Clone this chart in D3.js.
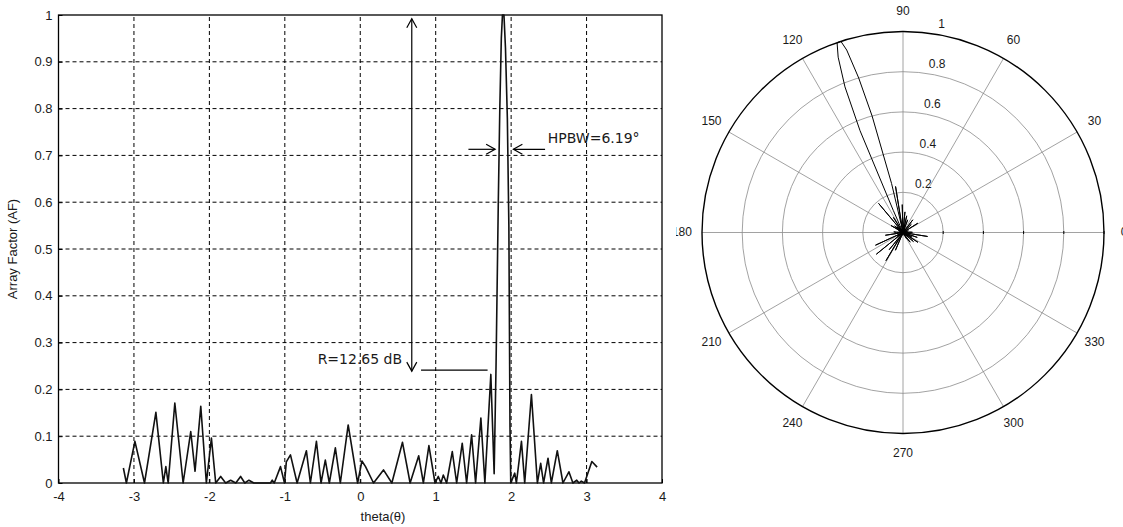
<!DOCTYPE html>
<html>
<head>
<meta charset="utf-8">
<script src="https://cdn.jsdelivr.net/npm/d3@7"></script>
<style>
  body { margin: 0; background: #fff; }
  text { font-family: "Liberation Sans", Arial, sans-serif; fill: #1a1a1a; }
  .note { font-family: "DejaVu Sans", sans-serif; font-size: 14px; }
</style>
</head>
<body>
<svg id="main-svg"></svg>
<script>
// array factor, theta in radians
var theta = [-3.14, -3.10, -2.987, -2.86, -2.709, -2.61, -2.577, -2.546, -2.458, -2.348,
  -2.247, -2.19, -2.114, -2.04, -1.973, -1.916, -1.85, -1.784, -1.718, -1.65,
  -1.586, -1.53, -1.476, -1.41, -1.19, -1.167, -1.14, -1.057, -1.004, -0.98,
  -0.925, -0.837, -0.714, -0.661, -0.581, -0.52, -0.463, -0.41, -0.330, -0.264,
  -0.160, -0.035, 0.022, 0.07, 0.176, 0.308, 0.419, 0.56, 0.661, 0.775,
  0.837, 0.91, 0.991, 1.035, 1.07, 1.101, 1.145, 1.22, 1.278, 1.352,
  1.41, 1.476, 1.529, 1.599, 1.652, 1.731, 1.775, 1.80, 1.83, 1.85,
  1.87, 1.885, 1.905, 1.925, 1.95, 1.97, 1.985, 1.995, 2.048, 2.07,
  2.137, 2.18, 2.269, 2.348, 2.392, 2.43, 2.489, 2.533, 2.612, 2.687,
  2.766, 2.819, 2.87, 2.90, 2.93, 2.973, 3.07, 3.14];
var af = [0.032, 0, 0.089, 0, 0.151, 0, 0.035, 0, 0.171, 0,
  0.110, 0.025, 0.164, 0, 0.096, 0, 0.014, 0, 0.006, 0,
  0.014, 0, 0.006, 0, 0, 0.006, 0, 0.035, 0, 0.045,
  0.060, 0, 0.069, 0, 0.089, 0, 0.049, 0, 0.075, 0,
  0.124, 0, 0.047, 0.035, 0, 0.028, 0, 0.087, 0, 0.058,
  0, 0.080, 0, 0.014, 0, 0.017, 0, 0.067, 0, 0.085,
  0, 0.103, 0, 0.139, 0, 0.232, 0.02, 0.25, 0.60, 0.80,
  0.95, 1.0, 1.0, 0.93, 0.78, 0.55, 0.12, 0, 0.021, 0,
  0.089, 0, 0.189, 0, 0.042, 0, 0.053, 0, 0.069, 0,
  0.024, 0, 0.006, 0, 0.004, 0, 0.046, 0.034];

var xTicks = [-4, -3, -2, -1, 0, 1, 2, 3, 4];
var yTicks = [0, 0.1, 0.2, 0.3, 0.4, 0.5, 0.6, 0.7, 0.8, 0.9, 1];
var ringTicks = [0.2, 0.4, 0.6, 0.8, 1];
var angleTicks = [0, 30, 60, 90, 120, 150, 180, 210, 240, 270, 300, 330];

var width = 1123,
  height = 527;

var svg = d3.select("#main-svg").attr("width", width).attr("height", height);
svg.append("rect").attr("width", width).attr("height", height).attr("fill", "#fff");

var defs = svg.append("defs");
defs.append("marker").attr("id", "arr")
  .attr("viewBox", "-10 -6 12 12").attr("refX", 0).attr("refY", 0)
  .attr("markerWidth", 12).attr("markerHeight", 12).attr("markerUnits", "userSpaceOnUse")
  .attr("orient", "auto-start-reverse")
  .append("path").attr("d", "M-9,-5L0,0L-9,5").attr("fill", "none").attr("stroke", "#000").attr("stroke-width", 1.2);

var pts = theta.map(function (t, i) { return [t, af[i]] });

// ---- left: AF vs theta
var x = d3.scaleLinear().domain([-4, 4]).range([58.5, 662]),
  y = d3.scaleLinear().domain([0, 1]).range([483, 15]);

var g = svg.append("g");

g.append("g").selectAll("line").data(xTicks.slice(1, -1)).enter().append("line")
  .attr("x1", x).attr("x2", x).attr("y1", y(0)).attr("y2", y(1))
  .attr("stroke", "#000").attr("stroke-dasharray", "4,3");
g.append("g").selectAll("line").data(yTicks.slice(1, -1)).enter().append("line")
  .attr("y1", y).attr("y2", y).attr("x1", x(-4)).attr("x2", x(4))
  .attr("stroke", "#000").attr("stroke-dasharray", "4,3");

var xa = g.append("g").attr("transform", "translate(0," + y(0) + ")")
  .call(d3.axisBottom(x).tickValues(xTicks).tickSize(-4).tickPadding(9).tickFormat(function (d) { return String(d) }));
var ya = g.append("g").attr("transform", "translate(" + x(-4) + ",0)")
  .call(d3.axisLeft(y).tickValues(yTicks).tickSize(-4).tickPadding(6).tickFormat(d3.format("~g")));
[xa, ya].forEach(function (a) {
  a.select(".domain").remove();
  a.selectAll("text").attr("font-size", 13).attr("font-family", null);
});

g.append("rect").attr("x", x(-4)).attr("y", y(1)).attr("width", x(4) - x(-4)).attr("height", y(0) - y(1))
  .attr("fill", "none").attr("stroke", "#000").attr("stroke-width", 1.3);

g.append("path").datum(pts)
  .attr("d", d3.line().x(function (d) { return x(d[0]) }).y(function (d) { return y(d[1]) }))
  .attr("fill", "none").attr("stroke", "#111").attr("stroke-width", 1.6).attr("stroke-linejoin", "round");

g.append("text").attr("transform", "translate(14," + y(0.5) + ") rotate(-90)")
  .attr("text-anchor", "middle").attr("dominant-baseline", "middle").attr("font-size", 13).text("Array Factor (AF)");
g.append("text").attr("x", 383).attr("y", 521).attr("text-anchor", "middle").attr("font-size", 13).text("theta(θ)");

// annotations
function arrowLine(x1, y1, x2, y2, both) {
  var l = g.append("line").attr("x1", x(x1)).attr("y1", y(y1)).attr("x2", x(x2)).attr("y2", y(y2))
    .attr("stroke", "#000").attr("stroke-width", 1.2).attr("marker-end", "url(#arr)");
  if (both) l.attr("marker-start", "url(#arr)");
}
arrowLine(0.683, 0.239, 0.683, 0.992, true);
g.append("line").attr("x1", x(0.806)).attr("x2", x(1.688)).attr("y1", y(0.241)).attr("y2", y(0.241))
  .attr("stroke", "#000").attr("stroke-width", 1.2);
g.append("text").attr("class", "note").attr("x", x(0.555)).attr("y", y(0.263))
  .attr("text-anchor", "end").attr("dominant-baseline", "middle").text("R=12.65 dB");
arrowLine(1.434, 0.713, 1.788, 0.713, false);
arrowLine(2.45, 0.713, 2.03, 0.713, false);
g.append("text").attr("class", "note").attr("x", x(2.486)).attr("y", y(0.736))
  .attr("dominant-baseline", "middle").text("HPBW=6.19°");

// ---- right: polar plot of the same pattern
var cx = 903,
  cy = 232.5,
  r = d3.scaleLinear().domain([0, 1]).range([0, 201]);

// left figure hides the leading "1" of 180, as in the source image
defs.append("clipPath").attr("id", "pclip").append("rect")
  .attr("x", 676).attr("y", 0).attr("width", width - 676).attr("height", height);

var p = svg.append("g").attr("clip-path", "url(#pclip)")
  .append("g").attr("transform", "translate(" + cx + "," + cy + ")");

p.selectAll(".spoke").data(angleTicks).enter().append("line")
  .attr("x1", 0).attr("y1", 0)
  .attr("x2", function (a) { return r(1) * Math.cos(a * Math.PI / 180) })
  .attr("y2", function (a) { return -r(1) * Math.sin(a * Math.PI / 180) })
  .attr("stroke", "#8a8a8a").attr("stroke-width", 0.8);

p.selectAll(".ring").data(ringTicks).enter().append("circle")
  .attr("r", r).attr("fill", "none")
  .attr("stroke", function (d) { return d === 1 ? "#000" : "#8a8a8a" })
  .attr("stroke-width", function (d) { return d === 1 ? 1.4 : 0.8 });

p.selectAll(".tk").data(ringTicks).enter().append("line")
  .attr("x1", r).attr("x2", r).attr("y1", -1.5).attr("y2", 1.5).attr("stroke", "#000");

p.selectAll(".rl").data(ringTicks).enter().append("text")
  .attr("x", function (d) { return r(d) * Math.cos(83.4 * Math.PI / 180) + 15.6 })
  .attr("y", function (d) { return -r(d) * Math.sin(83.4 * Math.PI / 180) - 8 })
  .attr("text-anchor", "middle").attr("dominant-baseline", "middle").attr("font-size", 12)
  .text(d3.format("~g"));

p.selectAll(".al").data(angleTicks).enter().append("text")
  .attr("x", function (a) { return r(1.1) * Math.cos(a * Math.PI / 180) })
  .attr("y", function (a) { return -r(1.1) * Math.sin(a * Math.PI / 180) })
  .attr("text-anchor", "middle").attr("dominant-baseline", "middle").attr("font-size", 12)
  .text(function (a) { return a });

p.append("path").datum(pts)
  .attr("d", d3.lineRadial().angle(function (d) { return Math.PI / 2 - d[0] }).radius(function (d) { return r(d[1]) }))
  .attr("fill", "none").attr("stroke", "#000").attr("stroke-width", 1);
</script>
</body>
</html>
